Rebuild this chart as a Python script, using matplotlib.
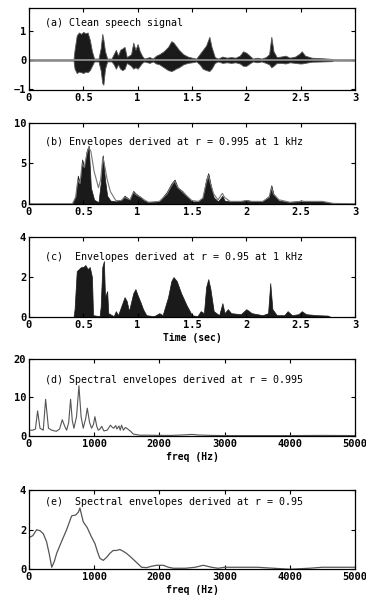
import matplotlib.pyplot as plt
import numpy as np

# (a) clean speech signal - upper / lower envelope of the waveform
t_a = [0, 0.41, 0.42, 0.44, 0.46, 0.48, 0.50, 0.52, 0.54, 0.56, 0.58, 0.60, 0.64,
       0.66, 0.675, 0.685, 0.70, 0.72, 0.76, 0.78, 0.80, 0.82, 0.84, 0.86, 0.88,
       0.90, 0.92, 0.94, 0.96, 0.98, 1.00, 1.02, 1.04, 1.06, 1.09, 1.11, 1.14,
       1.17, 1.20, 1.24, 1.28, 1.31, 1.33, 1.35, 1.38, 1.42, 1.46, 1.50, 1.54,
       1.57, 1.60, 1.63, 1.66, 1.68, 1.71, 1.74, 1.78, 1.82, 1.86, 1.90, 1.94,
       1.97, 2.00, 2.03, 2.06, 2.10, 2.14, 2.18, 2.21, 2.23, 2.25, 2.28, 2.32,
       2.36, 2.40, 2.45, 2.49, 2.51, 2.54, 2.60, 2.70, 2.78, 2.80, 3.0]
hi_a = [0.02, 0.02, 0.35, 0.85, 0.95, 0.9, 0.97, 0.92, 0.95, 0.7, 0.3, 0.05, 0.05,
        0.4, 0.9, 0.7, 0.3, 0.05, 0.05, 0.2, 0.35, 0.15, 0.35, 0.4, 0.45,
        0.1, 0.15, 0.2, 0.6, 0.35, 0.55, 0.3, 0.15, 0.05, 0.08, 0.1, 0.05,
        0.15, 0.2, 0.3, 0.45, 0.65, 0.6, 0.5, 0.35, 0.2, 0.12, 0.08, 0.05,
        0.2, 0.35, 0.5, 0.8, 0.45, 0.1, 0.05, 0.12, 0.08, 0.1, 0.08, 0.15,
        0.3, 0.25, 0.15, 0.05, 0.08, 0.05, 0.1, 0.2, 0.8, 0.3, 0.1, 0.12,
        0.15, 0.08, 0.12, 0.22, 0.3, 0.15, 0.08, 0.06, 0.04, 0.02, 0.02]
lo_a = [-0.02, -0.02, -0.3, -0.45, -0.4, -0.42, -0.45, -0.4, -0.42, -0.35, -0.2, -0.05, -0.05,
        -0.35, -0.8, -0.85, -0.3, -0.05, -0.05, -0.15, -0.3, -0.15, -0.3, -0.35, -0.3,
        -0.1, -0.15, -0.2, -0.3, -0.25, -0.3, -0.2, -0.1, -0.05, -0.08, -0.1, -0.05,
        -0.12, -0.15, -0.25, -0.35, -0.38, -0.35, -0.3, -0.25, -0.15, -0.1, -0.08, -0.05,
        -0.15, -0.3, -0.35, -0.38, -0.3, -0.1, -0.05, -0.1, -0.08, -0.1, -0.08, -0.12,
        -0.2, -0.2, -0.12, -0.05, -0.08, -0.05, -0.1, -0.15, -0.25, -0.2, -0.1, -0.1,
        -0.12, -0.08, -0.1, -0.12, -0.12, -0.1, -0.06, -0.05, -0.04, -0.02, -0.02]

# (b) envelopes at r = 0.995 : black band and grey smooth envelope
t_b = [0, 0.40, 0.43, 0.45, 0.47, 0.49, 0.51, 0.53, 0.55, 0.57, 0.60, 0.64, 0.66,
       0.68, 0.70, 0.72, 0.75, 0.80, 0.85, 0.88, 0.90, 0.93, 0.96, 0.98, 1.00,
       1.03, 1.06, 1.10, 1.20, 1.27, 1.31, 1.34, 1.37, 1.41, 1.45, 1.50, 1.56,
       1.60, 1.63, 1.65, 1.67, 1.70, 1.74, 1.78, 1.80, 1.85, 1.95, 2.00, 2.05,
       2.15, 2.21, 2.23, 2.25, 2.30, 2.40, 2.50, 2.60, 2.70, 2.80, 3.0]
black_b = [0, 0, 1.0, 3.5, 2.5, 5.5, 4.5, 6.5, 7.2, 2.0, 0.5, 0.2, 2.5,
           6.0, 3.0, 1.0, 0.4, 0.3, 0.5, 1.0, 0.8, 0.5, 1.6, 1.3, 1.1,
           0.8, 0.4, 0.2, 0.3, 1.5, 2.5, 3.0, 2.0, 1.6, 1.0, 0.3, 0.3,
           0.8, 3.0, 3.8, 2.5, 0.8, 0.3, 1.0, 0.4, 0.3, 0.3, 0.5, 0.3,
           0.3, 1.0, 2.3, 1.2, 0.4, 0.2, 0.4, 0.3, 0.3, 0.05, 0]
grey_b = [0, 0, 0.8, 3.0, 2.5, 5.0, 4.5, 6.0, 7.0, 6.5, 4.0, 2.0, 3.0,
          5.8, 4.5, 3.0, 1.5, 0.4, 0.4, 0.8, 0.7, 0.5, 1.4, 1.2, 1.0,
          0.8, 0.5, 0.2, 0.3, 1.2, 2.2, 2.8, 2.0, 1.5, 1.0, 0.4, 0.3,
          0.7, 2.5, 3.5, 2.5, 1.2, 0.5, 1.3, 0.8, 0.3, 0.3, 0.4, 0.3,
          0.3, 0.8, 2.0, 1.2, 0.5, 0.2, 0.3, 0.3, 0.3, 0.05, 0]

# (c) envelopes at r = 0.95
t_c = [0, 0.41, 0.42, 0.44, 0.46, 0.48, 0.50, 0.52, 0.54, 0.56, 0.58, 0.59, 0.65,
       0.66, 0.675, 0.69, 0.70, 0.72, 0.73, 0.78, 0.80, 0.82, 0.86, 0.88, 0.90,
       0.92, 0.96, 0.98, 1.00, 1.03, 1.05, 1.08, 1.15, 1.20, 1.23, 1.28, 1.31,
       1.33, 1.36, 1.40, 1.45, 1.50, 1.55, 1.58, 1.61, 1.63, 1.65, 1.67, 1.70,
       1.75, 1.78, 1.80, 1.83, 1.86, 1.95, 2.00, 2.05, 2.15, 2.20, 2.22, 2.24,
       2.28, 2.35, 2.38, 2.42, 2.48, 2.51, 2.55, 2.65, 2.75, 2.78, 3.0]
env_c = [0, 0, 0.4, 2.3, 2.4, 2.5, 2.5, 2.6, 2.4, 2.5, 2.0, 0.1, 0.05,
         0.5, 2.5, 2.8, 1.0, 1.3, 0.2, 0.05, 0.3, 0.1, 0.7, 1.0, 0.8,
         0.3, 1.2, 1.4, 1.1, 0.7, 0.4, 0.1, 0.05, 0.2, 0.1, 1.0, 1.8,
         2.0, 1.8, 1.2, 0.6, 0.1, 0.05, 0.3, 0.2, 1.5, 1.9, 1.4, 0.3,
         0.1, 0.7, 0.2, 0.4, 0.2, 0.15, 0.4, 0.2, 0.1, 0.2, 1.7, 0.4,
         0.1, 0.1, 0.3, 0.1, 0.15, 0.3, 0.15, 0.1, 0.08, 0, 0]

# (d) spectral envelope at r = 0.995
f_d = [0, 60, 100, 133, 170, 220, 256, 300, 350, 420, 470, 511, 550, 578, 610,
       639, 665, 690, 730, 767, 800, 833, 870, 895, 930, 961, 990, 1012, 1040,
       1063, 1090, 1115, 1150, 1200, 1250, 1280, 1300, 1330, 1350, 1380, 1400,
       1420, 1450, 1480, 1500, 1560, 1600, 1700, 1800, 2000, 2200, 2400, 2500,
       2600, 2800, 3000, 3500, 4000, 4500, 5000]
mag_d = [1.5, 1.5, 1.8, 6.5, 2.0, 1.5, 9.5, 2.0, 1.5, 1.2, 1.8, 4.2, 2.5, 1.5, 3.5,
         9.5, 4.0, 2.0, 5.0, 13.0, 5.0, 2.0, 4.5, 7.2, 3.5, 2.0, 3.0, 5.0, 2.5,
         1.5, 1.8, 2.5, 1.3, 1.5, 2.8, 2.2, 2.0, 2.7, 1.8, 2.6, 1.5,
         2.8, 1.5, 2.2, 2.0, 1.2, 0.5, 0.2, 0.2, 0.15, 0.15, 0.3, 0.4,
         0.25, 0.15, 0.1, 0.1, 0.1, 0.15, 0.1]

# (e) spectral envelope at r = 0.95
f_e = [0, 60, 118, 170, 220, 270, 310, 350, 390, 425, 500, 578, 655, 720, 760,
       782, 833, 895, 950, 1012, 1060, 1089, 1140, 1191, 1240, 1293, 1340, 1396,
       1450, 1498, 1550, 1600, 1680, 1728, 1805, 1880, 1958, 2060, 2140, 2214,
       2400, 2550, 2674, 2800, 2900, 3000, 3500, 4000, 4300, 4500, 5000]
mag_e = [1.6, 1.7, 2.0, 1.95, 1.8, 1.4, 0.8, 0.1, 0.4, 0.8, 1.4, 2.0, 2.7, 2.75, 2.9,
         3.1, 2.4, 2.1, 1.7, 1.3, 0.8, 0.55, 0.45, 0.6, 0.8, 0.95, 0.95, 1.0,
         0.9, 0.8, 0.65, 0.5, 0.25, 0.1, 0.08, 0.15, 0.2, 0.2, 0.1, 0.05,
         0.05, 0.1, 0.2, 0.1, 0.05, 0.1, 0.1, 0.0, 0.05, 0.1, 0.1]

mono = 'DejaVu Sans Mono'
plt.rcParams['font.family'] = mono
plt.rcParams['xtick.direction'] = 'in'
plt.rcParams['ytick.direction'] = 'in'
plt.rcParams['xtick.top'] = True
plt.rcParams['ytick.right'] = True

fig = plt.figure(figsize=(3.66, 6.03), dpi=100)

L, W = 0.079, 0.891
ax_a = fig.add_axes([L, 0.851, W, 0.136])
ax_b = fig.add_axes([L, 0.662, W, 0.134])
ax_c = fig.add_axes([L, 0.474, W, 0.133])
ax_d = fig.add_axes([L, 0.277, W, 0.128])
ax_e = fig.add_axes([L, 0.056, W, 0.131])

ax_a.plot([0, 3], [0, 0], color='#999999', lw=1.2)
ax_a.fill_between(t_a, lo_a, hi_a, color='#1a1a1a', edgecolor='#555555', lw=0.6)
ax_a.set_ylim(-1.03, 1.8)
ax_a.set_yticks([-1, 0, 1])

ax_b.fill_between(t_b, 0, black_b, color='#1a1a1a', lw=0.5)
ax_b.plot(t_b, grey_b, color='#777777', lw=0.8)
ax_b.set_ylim(0, 10)
ax_b.set_yticks([0, 5, 10])

ax_c.fill_between(t_c, 0, env_c, color='#1a1a1a', lw=0.5)
ax_c.set_ylim(0, 4)
ax_c.set_yticks([0, 2, 4])
ax_c.set_xlabel('Time (sec)', fontsize=7, fontweight='bold', labelpad=2)

for ax in (ax_a, ax_b, ax_c):
    ax.set_xlim(0, 3)
    ax.set_xticks([0, 0.5, 1, 1.5, 2, 2.5, 3])
    ax.set_xticklabels(['0', '0.5', '1', '1.5', '2', '2.5', '3'])

ax_d.plot(f_d, mag_d, color='#555555', lw=0.8)
ax_d.set_ylim(0, 20)
ax_d.set_yticks([0, 10, 20])

ax_e.plot(f_e, mag_e, color='#555555', lw=0.9)
ax_e.set_ylim(0, 4)
ax_e.set_yticks([0, 2, 4])

for ax in (ax_d, ax_e):
    ax.set_xlim(0, 5000)
    ax.set_xticks([0, 1000, 2000, 3000, 4000, 5000])
    ax.set_xlabel('freq (Hz)', fontsize=7, fontweight='bold', labelpad=2)

for ax in (ax_a, ax_b, ax_c, ax_d, ax_e):
    ax.tick_params(labelsize=7.5, length=3, width=0.8, pad=2)
    for lab in ax.get_xticklabels() + ax.get_yticklabels():
        lab.set_fontweight('bold')
    for s in ax.spines.values():
        s.set_linewidth(0.9)

titles = [(ax_a, '(a) Clean speech signal', 0.82),
          (ax_b, '(b) Envelopes derived at r = 0.995 at 1 kHz', 0.77),
          (ax_c, '(c)  Envelopes derived at r = 0.95 at 1 kHz', 0.75),
          (ax_d, '(d) Spectral envelopes derived at r = 0.995', 0.72),
          (ax_e, '(e)  Spectral envelopes derived at r = 0.95', 0.85)]
for ax, txt, y in titles:
    ax.text(0.05, y, txt, transform=ax.transAxes, fontsize=7.2,
            family=mono, va='center')

fig.savefig('out.png', dpi=100)
